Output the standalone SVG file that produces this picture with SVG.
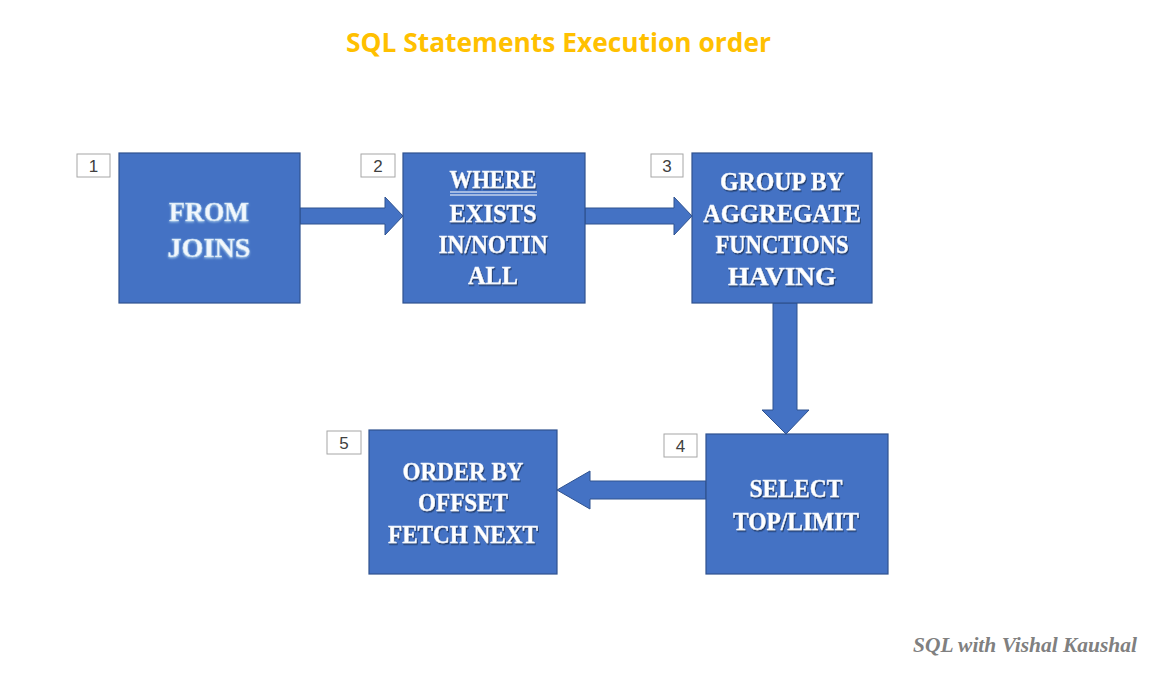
<svg xmlns="http://www.w3.org/2000/svg" width="1149" height="674" viewBox="0 0 1149 674">
<defs>
<filter id="sh" x="-10%" y="-20%" width="130%" height="150%">
<feDropShadow dx="1" dy="1.5" stdDeviation="0.6" flood-color="#1F3864" flood-opacity="0.9"/>
</filter>
<filter id="glow" x="-10%" y="-20%" width="130%" height="150%">
<feDropShadow dx="0" dy="1" stdDeviation="1.2" flood-color="#9DC3E6" flood-opacity="1"/>
</filter>
</defs>
<style>
.box{fill:#4472C4;stroke:#2F528F;stroke-width:1.2}
.arr{fill:#4472C4;stroke:#2F528F;stroke-width:1}
.num{fill:#fff;stroke:#A6A6A6;stroke-width:1}
.numt{font-family:"Liberation Sans",Arial,sans-serif;font-size:17px;fill:#404040;text-anchor:middle}
.lbl{font-family:"Liberation Serif","Times New Roman",serif;font-weight:bold;font-size:26px;fill:#fff;stroke:#DDE7F7;stroke-width:0.4;text-anchor:middle;filter:url(#sh)}
.lbl1{font-family:"Liberation Serif","Times New Roman",serif;font-weight:bold;font-size:28px;fill:#F2F7FC;stroke:#BDD7EE;stroke-width:0.5;text-anchor:middle;filter:url(#glow)}
.title{font-family:"Open Sans","Liberation Sans",sans-serif;font-weight:bold;font-size:27px;fill:#FFC000}
.foot{font-family:"Liberation Serif","Times New Roman",serif;font-weight:bold;font-style:italic;font-size:20px;fill:#808080}
</style>
<rect width="1149" height="674" fill="#fff"/>
<text class="title" x="346" y="52" textLength="425" lengthAdjust="spacingAndGlyphs">SQL Statements Execution order</text>

<g id="connectors">
<polygon class="arr" points="300,208 385,208 385,197 403,216 385,235 385,224 300,224"/>
<polygon class="arr" points="585,208 674,208 674,197 692,216 674,235 674,224 585,224"/>
<polygon class="arr" points="773,303 797,303 797,410 809,410 786,434 762,410 773,410"/>
<polygon class="arr" points="706,481 590,481 590,471 557,490 590,509 590,499 706,499"/>
</g>

<g id="node1">
<rect class="box" x="119" y="153" width="181" height="150"/>
<rect class="num" x="77" y="154" width="33" height="23"/>
<text class="numt" x="93.5" y="172">1</text>
<text class="lbl1" x="209" y="221" textLength="80" lengthAdjust="spacingAndGlyphs">FROM</text>
<text class="lbl1" x="209" y="257" textLength="83" lengthAdjust="spacingAndGlyphs">JOINS</text>
</g>

<g id="node2">
<rect class="box" x="403" y="153" width="182" height="150"/>
<rect class="num" x="361" y="154" width="34" height="23"/>
<text class="numt" x="378" y="172">2</text>
<text class="lbl" x="493" y="188" textLength="87" lengthAdjust="spacingAndGlyphs">WHERE</text>
<line x1="450" y1="192" x2="537" y2="192" stroke="#fff" stroke-width="1.2"/>
<line x1="450" y1="195" x2="537" y2="195" stroke="#fff" stroke-width="1.2"/>
<text class="lbl" x="493" y="222" textLength="87" lengthAdjust="spacingAndGlyphs">EXISTS</text>
<text class="lbl" x="493" y="253" textLength="109" lengthAdjust="spacingAndGlyphs">IN/NOTIN</text>
<text class="lbl" x="493" y="284" textLength="50" lengthAdjust="spacingAndGlyphs">ALL</text>
</g>

<g id="node3">
<rect class="box" x="692" y="153" width="180" height="150"/>
<rect class="num" x="651" y="154" width="32" height="23"/>
<text class="numt" x="667" y="172">3</text>
<text class="lbl" x="782" y="190" textLength="124" lengthAdjust="spacingAndGlyphs">GROUP BY</text>
<text class="lbl" x="782" y="222" textLength="158" lengthAdjust="spacingAndGlyphs">AGGREGATE</text>
<text class="lbl" x="782" y="253" textLength="133" lengthAdjust="spacingAndGlyphs">FUNCTIONS</text>
<text class="lbl" x="782" y="285" textLength="108" lengthAdjust="spacingAndGlyphs">HAVING</text>
</g>

<g id="node4">
<rect class="box" x="706" y="434" width="182" height="140"/>
<rect class="num" x="664" y="434" width="33" height="23"/>
<text class="numt" x="680.5" y="452">4</text>
<text class="lbl" x="796" y="497" textLength="93" lengthAdjust="spacingAndGlyphs">SELECT</text>
<text class="lbl" x="796" y="530" textLength="126" lengthAdjust="spacingAndGlyphs">TOP/LIMIT</text>
</g>

<g id="node5">
<rect class="box" x="369" y="430" width="188" height="144"/>
<rect class="num" x="327" y="431" width="34" height="23"/>
<text class="numt" x="344" y="449">5</text>
<text class="lbl" x="463" y="480" textLength="121" lengthAdjust="spacingAndGlyphs">ORDER BY</text>
<text class="lbl" x="463" y="511" textLength="90" lengthAdjust="spacingAndGlyphs">OFFSET</text>
<text class="lbl" x="463" y="543" textLength="150" lengthAdjust="spacingAndGlyphs">FETCH NEXT</text>
</g>

<text class="foot" x="913" y="652" textLength="224" lengthAdjust="spacingAndGlyphs">SQL with Vishal Kaushal</text>
</svg>
